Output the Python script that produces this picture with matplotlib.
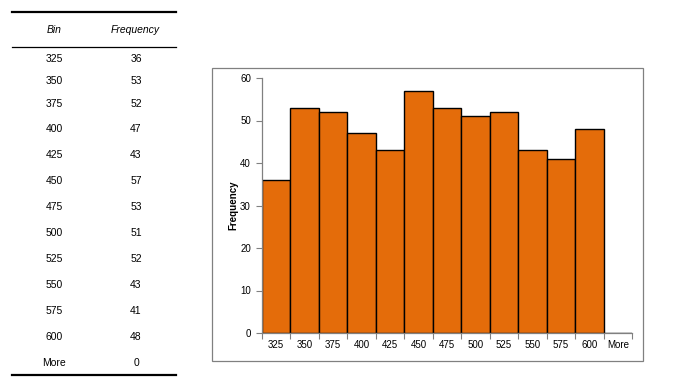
import numpy as np
import matplotlib
matplotlib.use('Agg')
from matplotlib import pyplot as plt
from matplotlib.patches import Rectangle
from matplotlib.lines import Line2D
from matplotlib.ticker import FixedLocator, NullFormatter

plt.rcParams['font.family'] = ['Liberation Sans', 'DejaVu Sans']

# Histogram data
bins = ['325', '350', '375', '400', '425', '450', '475', '500', '525', '550', '575', '600', 'More']
freq = [36, 53, 52, 47, 43, 57, 53, 51, 52, 43, 41, 48, 0]

W, H = 685, 390
fig = plt.figure(figsize=(W / 100, H / 100), dpi=100)

def fx(px):
    return px / W

def fy(py):
    return 1 - py / H

# Table on the left
fig.add_artist(Line2D([fx(12), fx(176)], [fy(12), fy(12)], color='black', lw=1.6))
fig.add_artist(Line2D([fx(12), fx(176)], [fy(47), fy(47)], color='black', lw=0.9))
fig.add_artist(Line2D([fx(12), fx(176)], [fy(375), fy(375)], color='black', lw=1.6))
fig.text(fx(54), fy(30), 'Bin', style='italic', fontsize=7.5, ha='center', va='center')
fig.text(fx(135), fy(30), 'Frequency', style='italic', fontsize=7.5, ha='center', va='center')
row_y = [59, 81, 104, 129, 155, 181, 207, 233, 259, 285, 311, 337, 363]
for b, f, y in zip(bins, freq, row_y):
    fig.text(fx(54), fy(y), b, fontsize=7.5, ha='center', va='center')
    fig.text(fx(136), fy(y), str(f), fontsize=7.5, ha='center', va='center')

# Chart frame
fig.add_artist(Rectangle((fx(212), fy(361)), fx(643) - fx(212), fy(68) - fy(361),
                         transform=fig.transFigure, fill=False, edgecolor='#808080', lw=0.9))

ax = fig.add_axes([fx(262), fy(333), fx(632) - fx(262), fy(78) - fy(333)])
x = np.arange(len(bins))
ax.bar(x, freq, width=1.0, color='#E46C0A', edgecolor='black', linewidth=1.0)
ax.set_xlim(-0.5, len(bins) - 0.5)
ax.set_ylim(0, 60)
ax.set_yticks(range(0, 61, 10))

ax.xaxis.set_major_locator(FixedLocator(np.arange(len(bins) + 1) - 0.5))
ax.xaxis.set_major_formatter(NullFormatter())
ax.xaxis.set_minor_locator(FixedLocator(x))
ax.set_xticklabels(bins, minor=True)
ax.tick_params(axis='x', which='minor', length=0, pad=5, labelsize=7)
ax.tick_params(axis='x', which='major', length=4, color='#808080', direction='out')
ax.tick_params(axis='y', length=4, color='#808080', labelsize=7, pad=4)

for s in ['top', 'right']:
    ax.spines[s].set_visible(False)
for s in ['left', 'bottom']:
    ax.spines[s].set_color('#808080')
    ax.spines[s].set_linewidth(0.9)

ax.set_ylabel('Frequency', fontsize=7, fontweight='bold', labelpad=1)

fig.savefig('out.png', dpi=100)
